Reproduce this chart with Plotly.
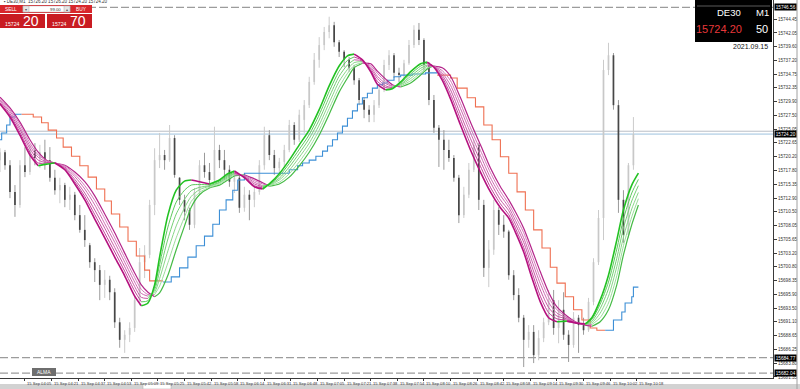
import plotly.graph_objects as go

# ---------------- data ----------------
opens = [15719.6,15721.0,15718.7,15714.0,15711.7,15718.7,15717.5,15721.4,15720.0,15721.0,
         15719.6,15716.5,15714.3,15715.2,15712.6,15713.5,15709.9,15707.3,15704.6,15701.6,
         15700.2,15697.6,15698.5,15696.3,15691.0,15687.9,15688.8,15690.0,15694.9,15701.6,
         15702.9,15711.7,15719.6,15720.5,15719.6,15723.5,15716.5,15712.6,15710.8,15708.2,
         15714.0,15718.7,15717.5,15716.1,15721.4,15719.6,15717.9,15715.8,15716.5,15711.2,
         15713.5,15712.6,15714.0,15718.7,15724.0,15720.5,15718.2,15719.3,15721.4,15725.8,
         15723.2,15726.7,15729.3,15733.4,15737.3,15739.9,15742.2,15743.4,15740.4,15738.7,
         15737.3,15735.9,15733.7,15730.2,15728.5,15727.6,15729.3,15732.0,15736.4,15738.1,
         15735.0,15734.6,15736.7,15739.9,15742.6,15740.8,15736.4,15730.2,15725.3,15723.2,
         15721.4,15720.0,15716.5,15709.9,15713.5,15717.9,15722.3,15711.7,15700.6,15703.8,
         15710.8,15708.2,15707.0,15699.3,15695.8,15691.8,15687.9,15689.3,15685.2,15688.2,
         15691.0,15694.9,15690.0,15693.2,15688.8,15687.0,15691.8,15690.5,15689.6,15694.6,
         15701.6,15709.4,15735.5,15738.1,15729.3,15712.6,15706.4,15718.7]
highs = [15721.7,15721.4,15719.6,15715.2,15719.6,15721.9,15722.3,15722.6,15722.3,15723.2,
         15721.9,15717.9,15716.5,15715.6,15714.9,15714.0,15711.7,15709.9,15705.0,15702.3,
         15701.1,15700.2,15699.2,15697.0,15691.8,15689.6,15691.0,15695.8,15704.1,15704.6,
         15712.6,15721.7,15724.4,15721.4,15725.8,15724.0,15716.6,15713.5,15711.2,15714.7,
         15719.6,15720.9,15719.1,15725.5,15722.3,15721.4,15718.7,15717.5,15717.0,15714.9,
         15714.3,15714.7,15719.6,15725.5,15724.9,15721.4,15720.0,15722.3,15726.7,15726.3,
         15728.5,15730.2,15734.3,15738.5,15741.3,15743.1,15744.9,15744.0,15740.8,15739.0,
         15737.8,15736.4,15734.1,15730.6,15729.3,15730.2,15732.9,15737.3,15739.0,15738.5,
         15735.9,15737.3,15740.8,15743.4,15743.8,15741.1,15736.9,15731.1,15725.8,15724.9,
         15723.2,15720.5,15717.0,15714.9,15719.1,15723.2,15722.6,15712.6,15705.5,15712.6,
         15711.3,15709.9,15707.3,15700.2,15697.0,15692.3,15690.5,15690.5,15689.6,15691.8,
         15696.7,15696.7,15694.9,15696.3,15689.6,15692.8,15692.3,15691.8,15695.3,15702.3,
         15710.8,15737.3,15740.3,15738.5,15730.2,15714.3,15719.1,15727.2]
lows = [15717.5,15717.9,15712.9,15709.6,15711.2,15716.6,15717.0,15718.7,15718.2,15717.9,
        15715.8,15713.5,15712.0,15711.3,15710.8,15709.0,15706.8,15704.3,15700.6,15698.1,
        15694.9,15695.3,15694.9,15690.0,15686.5,15685.6,15687.5,15689.3,15694.0,15698.8,
        15702.3,15709.9,15718.2,15717.9,15719.3,15716.5,15711.7,15709.0,15707.3,15707.6,
        15713.5,15716.5,15714.7,15715.8,15718.2,15716.1,15714.9,15713.8,15710.3,15710.5,
        15709.0,15711.3,15713.5,15717.9,15719.6,15717.0,15717.0,15718.2,15721.0,15722.3,
        15722.8,15724.4,15728.8,15732.9,15735.9,15739.0,15741.1,15739.6,15737.8,15736.0,
        15735.2,15732.9,15729.3,15727.0,15726.3,15726.3,15728.8,15731.6,15735.5,15734.1,
        15733.4,15734.1,15736.4,15739.4,15739.9,15735.5,15729.3,15724.4,15718.4,15717.9,
        15719.3,15715.8,15708.5,15709.4,15712.9,15717.5,15710.8,15699.0,15697.2,15702.9,
        15706.4,15705.9,15698.5,15694.9,15691.0,15683.1,15686.5,15683.8,15684.3,15687.5,
        15690.5,15688.8,15687.3,15687.9,15684.0,15686.5,15685.6,15688.8,15689.3,15694.0,
        15701.1,15705.5,15734.6,15728.5,15710.3,15705.0,15705.9,15717.9]
closes = [15721.0,15718.7,15714.0,15711.7,15718.7,15717.5,15721.4,15720.0,15721.0,15719.6,
          15716.5,15714.3,15715.2,15712.6,15713.5,15709.9,15707.3,15705.5,15701.6,15700.2,
          15697.6,15698.5,15696.3,15691.0,15687.9,15688.8,15690.0,15694.9,15701.6,15702.9,
          15711.7,15719.6,15720.5,15719.6,15723.5,15717.0,15712.6,15710.5,15708.2,15714.0,
          15718.7,15717.5,15716.1,15721.4,15719.6,15717.9,15715.8,15716.5,15711.2,15713.5,
          15712.6,15714.0,15718.7,15724.0,15720.5,15718.2,15719.3,15721.4,15725.8,15723.2,
          15727.6,15729.3,15733.4,15737.3,15739.9,15742.2,15743.4,15740.4,15738.7,15737.3,
          15735.9,15733.7,15730.2,15728.5,15727.6,15729.3,15732.0,15736.4,15738.1,15735.0,
          15734.6,15736.7,15739.9,15742.6,15740.8,15736.4,15730.2,15725.3,15723.2,15721.4,
          15720.0,15716.5,15709.9,15713.5,15717.9,15722.3,15712.6,15700.6,15703.8,15710.8,
          15708.2,15707.0,15699.3,15695.8,15691.8,15687.9,15689.3,15685.2,15688.2,15691.0,
          15694.9,15690.0,15693.2,15688.8,15687.0,15691.8,15690.5,15689.6,15694.6,15701.6,
          15709.4,15735.5,15738.1,15729.3,15712.6,15706.4,15718.7,15724.2]
BARS_PER_CANDLE = 3   # each drawn candle spans three M1 bars

# ALMA ribbon (fastest -> slowest), sampled at bar positions ribbon_x
ribbon_x = [0,6,12,18,23,28,33,39,45,51,57,63,69,75,81,85,89,93,96,101,106,111,115,120,126,
            132,137,141,147,153,158,162,168,174,180,186,192,198,204,209,213,218,223,227,232,
            236,241,247,253,257,261,266,271,277,283,289,295,301,306,310,315,320,325,330,335,
            341,346,352,356,361,366,371,375,380,384]
alma_1 = [15729.5,15727.2,15724.0,15720.5,15718.6,15718.9,15719.1,15717.9,15715.4,15712.6,
          15709.2,15705.9,15702.5,15699.2,15695.6,15693.9,15694.4,15697.6,15702.5,15709.9,
          15714.3,15715.9,15716.1,15715.8,15715.4,15716.1,15717.2,15717.7,15716.5,15714.9,
          15714.5,15715.4,15717.2,15719.6,15722.3,15724.9,15728.5,15732.7,15736.2,15738.0,
          15738.3,15737.3,15735.2,15733.0,15732.0,15732.2,15733.4,15735.2,15736.6,15736.9,
          15736.0,15733.7,15730.4,15725.8,15721.4,15717.5,15714.0,15711.2,15709.4,15706.9,
          15703.4,15698.8,15694.6,15691.8,15691.1,15691.2,15690.9,15690.7,15691.8,15694.9,
          15699.3,15705.5,15710.8,15715.2,15717.3]
alma_2 = [15729.7,15727.5,15724.5,15721.0,15719.1,15719.1,15719.1,15718.0,15715.8,15713.2,
          15710.0,15706.7,15703.4,15700.0,15696.5,15694.6,15694.8,15697.2,15701.2,15707.8,
          15712.2,15714.3,15715.2,15715.3,15715.3,15715.9,15716.9,15717.5,15716.6,15715.1,
          15714.7,15715.3,15716.8,15719.0,15721.5,15724.1,15727.6,15731.7,15735.3,15737.2,
          15737.8,15737.2,15735.4,15733.5,15732.4,15732.3,15733.2,15734.8,15736.2,15736.7,
          15736.1,15734.2,15731.2,15726.8,15722.4,15718.5,15714.8,15711.9,15710.0,15707.6,
          15704.2,15699.8,15695.6,15692.7,15691.6,15691.4,15690.9,15690.7,15691.5,15694.2,
          15698.1,15703.9,15709.2,15713.8,15716.2]
alma_3 = [15730.0,15727.8,15725.0,15721.6,15719.6,15719.2,15719.1,15718.2,15716.2,15713.8,
          15710.8,15707.6,15704.2,15700.8,15697.3,15695.4,15695.2,15696.7,15700.0,15705.7,
          15710.1,15712.7,15714.2,15714.8,15715.1,15715.7,15716.7,15717.3,15716.7,15715.4,
          15714.9,15715.3,15716.4,15718.4,15720.8,15723.4,15726.7,15730.7,15734.4,15736.4,
          15737.3,15737.1,15735.7,15734.0,15732.7,15732.4,15733.0,15734.4,15735.8,15736.4,
          15736.1,15734.6,15732.0,15727.7,15723.4,15719.4,15715.7,15712.6,15710.7,15708.3,
          15705.1,15700.8,15696.7,15693.6,15692.1,15691.6,15690.9,15690.6,15691.2,15693.4,
          15696.9,15702.3,15707.6,15712.4,15715.1]
alma_4 = [15730.2,15728.2,15725.4,15722.1,15720.1,15719.3,15719.1,15718.4,15716.7,15714.5,
          15711.7,15708.4,15705.1,15701.6,15698.1,15696.1,15695.6,15696.3,15698.7,15703.6,
          15708.0,15711.2,15713.2,15714.4,15715.0,15715.6,15716.5,15717.2,15716.8,15715.7,
          15715.1,15715.2,15716.1,15717.8,15720.1,15722.6,15725.8,15729.7,15733.5,15735.6,
          15736.8,15737.0,15736.0,15734.4,15733.1,15732.6,15732.9,15734.0,15735.4,15736.2,
          15736.1,15735.0,15732.8,15728.7,15724.4,15720.4,15716.5,15713.4,15711.3,15709.0,
          15705.9,15701.8,15697.8,15694.5,15692.6,15691.8,15691.0,15690.6,15690.9,15692.6,
          15695.6,15700.8,15706.0,15711.0,15713.9]
alma_5 = [15730.5,15728.5,15725.9,15722.6,15720.5,15719.5,15719.1,15718.6,15717.1,15715.1,
          15712.5,15709.3,15705.9,15702.4,15698.9,15696.8,15695.9,15695.9,15697.4,15701.5,
          15705.9,15709.6,15712.3,15713.9,15714.8,15715.4,15716.3,15717.0,15716.9,15716.0,
          15715.4,15715.1,15715.7,15717.2,15719.3,15721.8,15724.9,15728.7,15732.5,15734.9,
          15736.3,15736.8,15736.3,15734.9,15733.5,15732.7,15732.7,15733.6,15735.0,15735.9,
          15736.2,15735.4,15733.6,15729.6,15725.3,15721.3,15717.4,15714.1,15711.9,15709.7,
          15706.8,15702.8,15698.8,15695.4,15693.2,15691.9,15691.0,15690.6,15690.6,15691.8,
          15694.4,15699.2,15704.5,15709.6,15712.8]
alma_6 = [15730.7,15728.8,15726.3,15723.2,15721.0,15719.6,15719.1,15718.7,15717.5,15715.8,
          15713.3,15710.1,15706.8,15703.2,15699.7,15697.6,15696.3,15695.5,15696.2,15699.3,
          15703.8,15708.0,15711.3,15713.5,15714.7,15715.2,15716.1,15716.8,15717.0,15716.3,
          15715.6,15715.0,15715.4,15716.6,15718.6,15721.0,15724.0,15727.7,15731.6,15734.1,
          15735.9,15736.7,15736.6,15735.3,15733.9,15732.9,15732.5,15733.2,15734.6,15735.7,
          15736.2,15735.9,15734.4,15730.6,15726.3,15722.3,15718.2,15714.9,15712.6,15710.5,
          15707.6,15703.8,15699.9,15696.3,15693.7,15692.1,15691.1,15690.5,15690.3,15691.1,
          15693.2,15697.6,15702.9,15708.2,15711.7]

# step trailing lines (bar, price)
blue_1_x = [0, 1, 4, 6, 9, 13]
blue_1_y = [15723.2, 15724.4, 15725.8, 15727.2, 15727.7, 15727.7]
orange_1_x = [13, 20, 25, 29, 34, 38, 43, 48, 53, 58, 63, 67, 72, 77, 82, 87, 90, 98]
orange_1_y = [15727.7, 15727.2, 15726.2, 15724.9, 15723.5, 15721.9, 15720.3, 15718.6, 15716.6,
              15714.5, 15712.4, 15710.1, 15707.8, 15705.3, 15702.7, 15700.2, 15698.3, 15698.3]
blue_2_x = [98, 103, 108, 113, 118, 123, 128, 132, 136, 140, 143, 147, 174, 179, 182, 186, 190,
            194, 197, 200, 203, 206, 209, 212, 215, 218, 221, 224, 227, 230, 233, 237, 241, 248,
            256, 263]
blue_2_y = [15698.1, 15699.0, 15700.6, 15702.5, 15704.5, 15706.2, 15708.3, 15710.8, 15712.6,
            15714.3, 15716.1, 15717.3, 15717.9, 15718.6, 15719.1, 15719.6, 15720.3, 15721.2,
            15722.1, 15723.2, 15724.4, 15725.6, 15727.0, 15728.3, 15729.5, 15730.6, 15731.4,
            15732.3, 15732.9, 15733.2, 15733.7, 15734.3, 15734.6, 15734.8, 15735.0, 15735.0]
orange_2_x = [263, 271, 275, 281, 286, 291, 296, 301, 306, 311, 316, 321, 326, 331, 335, 340,
              345, 350, 355, 359, 364]
orange_2_y = [15734.6, 15734.1, 15732.3, 15730.6, 15729.0, 15725.8, 15723.2, 15720.2, 15717.3,
              15714.0, 15710.8, 15707.3, 15704.1, 15700.7, 15697.9, 15695.5, 15693.2, 15691.4,
              15690.0, 15689.6, 15689.6]
blue_3_x = [364, 369, 374, 376, 380, 381, 384]
blue_3_y = [15689.6, 15691.4, 15692.8, 15694.4, 15695.5, 15697.2, 15697.2]

# time axis
time_labels = ["15 Sep 04:05", "15 Sep 04:21", "15 Sep 04:37", "15 Sep 04:53", "15 Sep 05:09",
               "15 Sep 05:25", "15 Sep 05:42", "15 Sep 05:58", "15 Sep 06:14", "15 Sep 06:31",
               "15 Sep 06:48", "15 Sep 07:05", "15 Sep 07:21", "15 Sep 07:38", "15 Sep 07:54",
               "15 Sep 08:10", "15 Sep 08:26", "15 Sep 08:42", "15 Sep 08:58", "15 Sep 09:14",
               "15 Sep 09:30", "15 Sep 09:46", "15 Sep 10:02", "15 Sep 10:18"]
first_label = "15 Sep 2021"
FIRST_LABEL_BAR = 15      # bar index of 04:05
BARS_PER_LABEL = 16

# price axis
price_ticks = ["15744.45", "15742.05", "15739.60", "15737.20", "15734.75", "15732.35",
               "15729.90", "15727.50", "15725.05", "15722.65", "15720.20", "15717.80",
               "15715.35", "15712.90", "15710.50", "15708.05", "15705.65", "15703.20",
               "15700.80", "15698.35", "15695.90", "15693.50", "15691.10", "15688.65",
               "15686.25", "15683.80", "15681.35"]
dashed_levels = [15746.56, 15684.77, 15682.04]
bid_price = 15724.20
ask_price = 15724.70

# ---------------- geometry ----------------
W, H = 800, 389
ML, MR, MT, MB = 0, 27, 0, 11
PW, PH = W - ML - MR, H - MT - MB
PX_PER_BAR = 1.6625
Y_TOP, Y_BOT = 15747.85, 15681.17


def fx(px):
    return px / PW


def fy(py):
    return 1 - py / PH


fig = go.Figure()

# ---------------- candles ----------------
cx = [i * BARS_PER_CANDLE for i in range(len(opens))]
groups = {"bull": ([], [], [], []), "bear": ([], [], [], [])}
for x, o, h, l, c in zip(cx, opens, highs, lows, closes):
    g = groups["bull" if c >= o else "bear"]
    g[0].extend([x, x, None]); g[1].extend([l, h, None])
    g[2].extend([x, x, None]); g[3].extend([o, c, None])

fig.add_trace(go.Scatter(x=groups["bull"][0], y=groups["bull"][1], mode="lines",
                         line=dict(color="#cbcbcb", width=1), hoverinfo="skip"))
fig.add_trace(go.Scatter(x=groups["bull"][2], y=groups["bull"][3], mode="lines",
                         line=dict(color="#c8c8c8", width=1.7), hoverinfo="skip"))
fig.add_trace(go.Scatter(x=groups["bear"][0], y=groups["bear"][1], mode="lines",
                         line=dict(color="#9a9a9a", width=1), hoverinfo="skip"))
fig.add_trace(go.Scatter(x=groups["bear"][2], y=groups["bear"][3], mode="lines",
                         line=dict(color="#474747", width=1.7), hoverinfo="skip"))

# ---------------- step lines ----------------
for xs, ys, col in [(blue_1_x, blue_1_y, "#3d8fd6"), (orange_1_x, orange_1_y, "#ef7052"),
                    (blue_2_x, blue_2_y, "#3d8fd6"), (orange_2_x, orange_2_y, "#ef7052"),
                    (blue_3_x, blue_3_y, "#3d8fd6")]:
    fig.add_trace(go.Scatter(x=xs, y=ys, mode="lines", line=dict(color=col, width=1.1, shape="hv"),
                             hoverinfo="skip"))

# ---------------- ALMA ribbon, coloured by slope ----------------
ribbon = [alma_1, alma_2, alma_3, alma_4, alma_5, alma_6]
mag_cols = ["#b5117f", "#c2409a", "#c956a6", "#cf68b2", "#d478ba", "#b4248a"]
grn_cols = ["#22c222", "#5cc95c", "#74d074", "#88d788", "#9bdd9b", "#45bb45"]
widths = [1.6, 1.0, 1.0, 1.0, 1.0, 1.2]


def runs(ys):
    out, start, cur = [], 0, None
    for j in range(1, len(ys)):
        if ys[j] > ys[j - 1]:
            d = "up"
        elif ys[j] < ys[j - 1]:
            d = "down"
        else:
            d = cur or "down"
        if cur is None:
            cur = d
        if d != cur:
            out.append((cur, start, j - 1))
            start, cur = j - 1, d
    out.append((cur, start, len(ys) - 1))
    return out


for k in reversed(range(len(ribbon))):
    ys = ribbon[k]
    for d, s, e in runs(ys):
        fig.add_trace(go.Scatter(
            x=ribbon_x[s:e + 1], y=ys[s:e + 1], mode="lines",
            line=dict(color=grn_cols[k] if d == "up" else mag_cols[k], width=widths[k],
                      shape="spline", smoothing=0.7),
            hoverinfo="skip"))

# ---------------- shapes ----------------
shapes = []
for lv in dashed_levels:
    shapes.append(dict(type="line", xref="paper", yref="y", x0=0, x1=1, y0=lv, y1=lv,
                       line=dict(color="#9c9c9c", width=1.3, dash="8px,3px"), layer="below"))
shapes.append(dict(type="line", xref="paper", yref="y", x0=0, x1=1, y0=ask_price, y1=ask_price,
                   line=dict(color="#b9bec6", width=1), layer="below"))
shapes.append(dict(type="line", xref="paper", yref="y", x0=0, x1=1, y0=bid_price, y1=bid_price,
                   line=dict(color="#9cc2de", width=1), layer="below"))


def rect(x0, y0, x1, y1, fill, line=None, lw=0):
    return dict(type="rect", xref="paper", yref="paper", x0=fx(x0), x1=fx(x1), y0=fy(y1), y1=fy(y0),
                fillcolor=fill, line=dict(color=line or fill, width=lw), layer="above")


# one-click trading panel
shapes += [rect(0, 5, 92, 13, "#d8262b"),
           rect(23, 6, 70, 12, "#ffffff", "#bbbbbb", 0.5),
           rect(23, 6, 29, 12, "#e6e6e6", "#aaaaaa", 0.5),
           rect(64, 6, 70, 12, "#e6e6e6", "#aaaaaa", 0.5),
           rect(0, 14, 45, 28, "#c91c22"),
           rect(47, 14, 92, 28, "#c91c22")]
# info box top-right
shapes += [rect(695, 0, 772, 42, "#000000"),
           dict(type="line", xref="paper", yref="paper", x0=fx(697), x1=fx(770), y0=fy(6), y1=fy(6),
                line=dict(color="#5a5a5a", width=1), layer="above")]
# ALMA tag
shapes.append(rect(32, 368, 56, 376, "#6e6e6e"))
# bottom bar
shapes += [rect(0, 384, 800, 389, "#d2d2d2"), rect(143, 384, 171, 389, "#ffffff", "#a8a8a8", 0.5)]
# right window border
shapes.append(dict(type="line", xref="paper", yref="paper", x0=fx(797), x1=fx(797), y0=fy(389), y1=1,
                   line=dict(color="#a0a0a0", width=1), layer="above"))

# ---------------- annotations ----------------
ann = []


def txt(px, py, s, size, color, anchor="center", family="Liberation Sans"):
    ann.append(dict(xref="paper", yref="paper", x=fx(px), y=fy(py), text=s, showarrow=False,
                    xanchor=anchor, yanchor="middle", font=dict(size=size, color=color, family=family)))


txt(2, 1.8, "▪ DE30,M1  15726.20 15726.20 15724.20 15724.20", 4.5, "#333333", "left")
txt(11, 9, "SELL", 4.8, "#ffffff")
txt(81, 9, "BUY", 4.8, "#ffffff")
txt(26, 9, "▾", 4, "#555555")
txt(67, 9, "▴", 4, "#555555")
txt(55, 9, "99.00", 4.3, "#333333")
txt(13, 23.5, "15724", 5.2, "#ffffff")
txt(31, 21, "20", 14, "#ffffff")
txt(60, 23.5, "15724", 5.2, "#ffffff")
txt(78, 21, "70", 14, "#ffffff")
txt(729, 12, "DE30", 9.5, "#ffffff")
txt(762, 12, "M1", 9.5, "#ffffff")
txt(719, 29, "15724.20", 11, "#e8383a")
txt(762, 29, "50", 11, "#ffffff")
txt(750, 47, "2021.09.15", 7, "#111111")
txt(44, 372, "ALMA", 5, "#ffffff")

# time labels
ann.append(dict(xref="x", yref="paper", x=FIRST_LABEL_BAR - 17, y=0, text=first_label, showarrow=False,
                xanchor="left", yanchor="top", yshift=-1, font=dict(size=4.1, color="#333333",
                                                                    family="Liberation Sans")))
label_bars = [FIRST_LABEL_BAR + BARS_PER_LABEL * k for k in range(len(time_labels))]
for b, t in zip(label_bars, time_labels):
    ann.append(dict(xref="x", yref="paper", x=b, y=0, text=t, showarrow=False, xanchor="left",
                    yanchor="top", xshift=0.5, yshift=-1,
                    font=dict(size=4.1, color="#333333", family="Liberation Sans")))

# black price tags on axis
for lv in [dashed_levels[0], bid_price, dashed_levels[1], dashed_levels[2]]:
    ann.append(dict(xref="paper", yref="y", x=1, y=lv, text=f"{lv:.2f}", showarrow=False,
                    xanchor="left", yanchor="middle", xshift=0.5, bgcolor="#000000", borderpad=0.7,
                    font=dict(size=4.7, color="#ffffff", family="Liberation Sans")))

fig.update_layout(
    width=W, height=H, autosize=False,
    margin=dict(l=ML, r=MR, t=MT, b=MB, pad=0),
    paper_bgcolor="#ffffff", plot_bgcolor="#ffffff",
    showlegend=False, shapes=shapes, annotations=ann,
    xaxis=dict(range=[0, PW / PX_PER_BAR], showgrid=False, zeroline=False,
               showline=True, linecolor="#3a3a3a", linewidth=1,
               tickvals=label_bars, ticks="outside", ticklen=2, tickcolor="#3a3a3a",
               showticklabels=False, fixedrange=True),
    yaxis=dict(range=[Y_BOT, Y_TOP], side="right", showgrid=False, zeroline=False,
               showline=True, linecolor="#3a3a3a", linewidth=1,
               tickvals=[float(v) for v in price_ticks], ticktext=price_ticks,
               ticks="outside", ticklen=3, tickcolor="#3a3a3a",
               tickfont=dict(size=4.6, color="#333333", family="Liberation Sans"),
               fixedrange=True),
)

fig.write_html("out.html", config={"displayModeBar": False})
